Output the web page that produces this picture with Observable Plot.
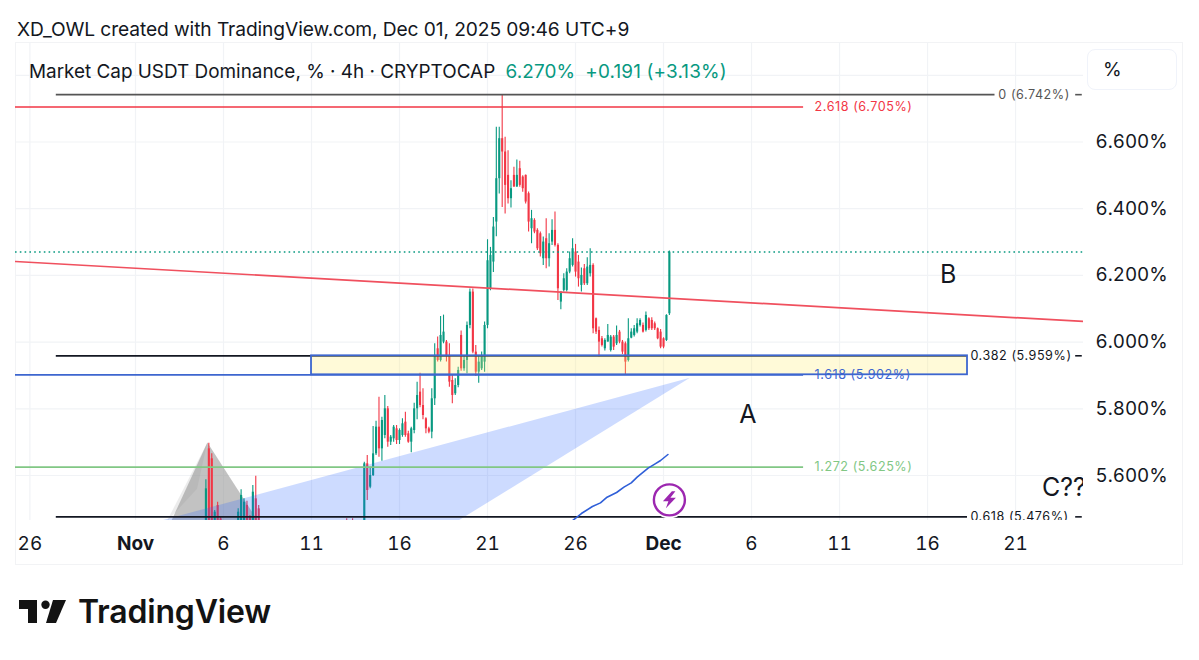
<!DOCTYPE html>
<html>
<head>
<meta charset="utf-8">
<script src="https://cdn.jsdelivr.net/npm/d3@7"></script>
<script src="https://cdn.jsdelivr.net/npm/@observablehq/plot@0.6"></script>
<style>
html,body{margin:0;padding:0;background:#fff;width:1199px;height:660px;overflow:hidden;font-family:Inter,"Noto Sans",sans-serif;color:#131722}
#top{position:absolute;left:17px;top:17px;font-size:19.2px;line-height:24px;white-space:nowrap;letter-spacing:-.005em}
#wrap{position:absolute;left:0;top:42px;width:1199px;height:523px}
#frame{position:absolute;left:15px;top:42px;width:1168px;height:523px;border:1px solid #f2f3f5;box-sizing:border-box}
#legend{position:absolute;left:29px;top:60px;font-size:18.9px;line-height:23px;white-space:nowrap}
#legend .g{color:#089981;margin-left:5px;letter-spacing:.15px}
#legend .g + .g{margin-left:10px}
#unit{position:absolute;left:1087px;top:49px;width:90px;height:41px;border:1px solid #f0f3fa;border-radius:8px;box-sizing:border-box;font-size:19px;line-height:40px;padding-left:15px}
#foot{position:absolute;left:78px;top:592px;font-size:32px;line-height:40px;font-weight:600;letter-spacing:-.2px;color:#131313}
#logo{position:absolute;left:19px;top:599px}
</style>
</head>
<body>
<div id="top">XD_OWL created with TradingView.com, Dec 01, 2025 09:46 UTC+9</div>
<div id="frame"></div>
<div id="wrap"></div>
<div id="legend">Market Cap USDT Dominance, % · 4h · CRYPTOCAP <span class="g">6.270%</span><span class="g">+0.191 (+3.13%)</span></div>
<div id="unit">%</div>
<svg id="logo" width="50" height="26" viewBox="0 0 50 26"><path fill="#131313" d="M0 1h18v23h-9V10H0z"/><circle cx="26.500" cy="5.800" r="4.200" fill="#131313"/><path fill="#131313" d="M34 1h13l-10 23H27z"/></svg>
<div id="foot">TradingView</div>
<script>
// 4h candles, starting at barStart; null = not visible in the pane
const barStart = "2025-11-05T00:00:00Z";
const gap = n => Array(n).fill(null);
const opens = [
  5.42,5.68,5.65,5.44,5.51,5.47,...gap(5),5.44,5.46,5.44,5.51,5.475,5.45,5.53,5.50,...gap(29),
  5.45,null,5.45,...gap(3),5.42,5.635,5.565,5.60,5.665,5.745,
  5.68,5.72,5.80,5.70,5.71,5.74,5.705,5.72,5.76,5.725,
  5.70,5.735,5.80,5.85,5.81,5.77,5.74,5.73,5.83,5.98,
  5.945,6.00,6.00,5.96,5.885,5.845,5.87,6.02,5.92,5.945,
  6.05,6.15,5.97,5.91,5.92,5.94,6.05,6.16,6.24,6.36,
  6.49,6.61,6.57,6.50,6.43,6.50,6.465,6.52,6.495,6.50,
  6.445,6.34,6.365,6.335,6.325,6.25,6.31,6.25,6.30,6.335,
  6.29,6.12,6.155,6.155,6.21,6.23,6.27,6.24,6.17,6.22,
  6.175,6.205,6.23,6.07,6.035,6.01,5.98,6.0,5.975,6.015,
  5.995,6.03,6.0,5.995,5.945,6.012,6.02,6.03,6.05,6.05,
  6.035,6.07,6.065,6.055,6.04,6.03,6.01,6.005,6.085
];
const highs = [
  5.587,5.697,5.665,5.495,5.52,5.475,...gap(5),5.50,5.557,5.53,5.523,5.48,5.57,5.598,5.51,...gap(29),
  5.47,null,5.47,...gap(3),5.64,5.66,5.625,5.747,5.763,5.835,
  5.775,5.84,5.807,5.72,5.75,5.75,5.74,5.77,5.79,5.733,
  5.745,5.817,5.88,5.907,5.86,5.773,5.745,5.86,5.995,6.015,
  6.077,6.081,6.005,5.995,5.90,5.89,5.925,6.033,5.96,6.06,
  6.159,6.159,5.99,5.96,5.97,6.06,6.307,6.284,6.374,6.644,
  6.644,6.742,6.614,6.574,6.484,6.524,6.546,6.542,6.499,6.501,
  6.45,6.395,6.37,6.34,6.33,6.315,6.37,6.325,6.367,6.39,
  6.295,6.15,6.205,6.22,6.27,6.31,6.293,6.26,6.222,6.233,
  6.253,6.28,6.235,6.072,6.045,6.017,6.01,6.053,6.02,6.02,
  6.048,6.035,6.005,6.0,6.07,6.04,6.05,6.07,6.07,6.057,
  6.09,6.073,6.073,6.06,6.042,6.038,6.013,6.082,6.273
];
const lows = [
  5.40,5.40,5.42,5.42,5.43,5.42,...gap(5),5.42,5.43,5.42,5.43,5.42,5.43,5.44,5.43,...gap(29),
  5.43,null,5.43,...gap(3),5.40,5.525,5.56,5.597,5.66,5.655,
  5.643,5.71,5.685,5.69,5.70,5.693,5.693,5.715,5.715,5.697,
  5.668,5.725,5.767,5.803,5.767,5.725,5.725,5.71,5.81,5.94,
  5.94,5.995,5.94,5.865,5.815,5.84,5.863,5.913,5.913,5.905,
  6.04,5.965,5.897,5.877,5.915,5.91,6.04,6.154,6.209,6.316,
  6.444,6.404,6.384,6.414,6.402,6.464,6.464,6.464,6.449,6.414,
  6.33,6.295,6.325,6.275,6.255,6.23,6.22,6.225,6.29,6.285,
  6.125,6.097,6.15,6.15,6.205,6.225,6.195,6.165,6.15,6.17,
  6.17,6.195,6.025,6.023,5.955,5.985,5.973,6.0,5.97,5.975,
  5.99,5.995,5.963,5.903,5.94,6.01,6.015,6.025,6.045,6.027,
  6.03,6.035,6.035,6.035,6.007,5.98,5.98,6.002,6.08
];
const closes = [
  5.56,5.45,5.45,5.49,5.45,5.44,...gap(5),5.49,5.54,5.52,5.45,5.44,5.55,5.46,5.45,...gap(29),
  5.44,null,5.44,...gap(3),5.635,5.555,5.60,5.665,5.745,5.68,
  5.765,5.80,5.70,5.715,5.745,5.705,5.735,5.755,5.72,5.70,
  5.74,5.80,5.84,5.81,5.78,5.74,5.73,5.83,5.96,5.945,
  6.02,6.03,5.96,5.88,5.84,5.87,5.915,5.92,5.945,6.05,
  6.15,5.97,5.91,5.94,5.96,6.05,6.244,6.26,6.345,6.49,
  6.61,6.57,6.47,6.43,6.46,6.465,6.50,6.47,6.46,6.42,
  6.36,6.37,6.33,6.28,6.265,6.30,6.25,6.295,6.335,6.29,
  6.16,6.15,6.19,6.21,6.25,6.28,6.21,6.19,6.20,6.175,
  6.225,6.23,6.04,6.03,6.00,5.99,6.005,6.02,6.015,5.985,
  6.02,6.0,5.97,5.94,6.01,6.03,6.04,6.055,6.065,6.03,
  6.08,6.04,6.04,6.04,6.01,5.985,5.985,6.08,6.27
];

// axes
const priceTicks = [5.6,5.8,6.0,6.2,6.4,6.6];
const priceGrid = [5.6,5.8,6.0,6.2,6.4,6.6,6.8];
const dayTicks = ["2025-10-26","2025-11-06","2025-11-11","2025-11-16","2025-11-21","2025-11-26","2025-12-06","2025-12-11","2025-12-16","2025-12-21"];
const monthTicks = ["2025-11-01","2025-12-01"];
const xDomain = ["2025-10-25T04:22:00Z","2025-12-24T20:40:00Z"];
const yDomain = [5.4651,6.8984];

// Fibonacci levels and their labels
const levelValues = [6.742,6.705,5.959,5.902,5.625,5.476];
const levelNames  = ["0 (6.742%)","2.618 (6.705%)","0.382 (5.959%)","1.618 (5.902%)","1.272 (5.625%)","0.618 (5.476%)"];
const levelColors = ["#555555","#f23645","#131722","#3d66cf","#81c784","#131722"];
const levelStart  = ["2025-10-27T12:00Z","2025-10-25T04:22Z","2025-10-27T12:00Z","2025-10-25T04:22Z","2025-10-25T04:22Z","2025-10-27T12:00Z"];
const levelEnd    = ["2025-12-19T20:00Z","2025-12-08T23:00Z","2025-12-18T06:30Z","2025-12-08T23:00Z","2025-12-08T23:00Z","2025-12-18T06:30Z"];
const labelStart  = ["2025-12-20T00:30Z","2025-12-09T14:00Z","2025-12-18T10:30Z","2025-12-09T14:00Z","2025-12-09T14:00Z","2025-12-18T10:30Z"];
const dashValues  = [6.742,5.959,5.476];
const dashColors  = ["#555555","#131722","#131722"];
const dashStart = "2025-12-24T10:00Z", dashEnd = "2025-12-24T19:00Z";

// drawings
const boxStart = "2025-11-11T00:00Z", boxEnd = "2025-12-18T06:30Z", boxTop = 5.959, boxBottom = 5.902;
const lastPrice = 6.27;
const trendDates = ["2025-10-25T04:22Z","2025-12-24T20:40Z"];
const trendValues = [6.2417,6.0618];
const wedgeDates = ["2025-11-02T06:00Z","2025-12-02T12:00Z","2025-11-19T06:00Z","2025-11-02T06:00Z"];
const wedgeValues = [5.4620,5.893,5.4620,5.4620];
const triDates = ["2025-11-03T00:00Z","2025-11-05T02:00Z","2025-11-08T00:00Z"];
const triValues = [5.460,5.699,5.460];
const haloDates = ["2025-11-02T18:00Z","2025-11-05T02:00Z","2025-11-04T12:00Z"];
const haloValues = [5.460,5.699,5.560];
const curveDates = ["2025-11-25T20:00Z","2025-11-26T08:00Z","2025-11-26T23:00Z","2025-11-27T10:00Z","2025-11-27T19:00Z","2025-11-28T08:00Z","2025-11-28T18:00Z","2025-11-29T04:00Z","2025-11-29T12:00Z","2025-11-30T03:00Z","2025-11-30T12:00Z","2025-11-30T20:00Z","2025-12-01T06:00Z"];
const curveValues = [5.465,5.486,5.507,5.518,5.535,5.549,5.565,5.578,5.595,5.622,5.634,5.645,5.663];
const noteText = ["A","B","C??"];
const noteDates = ["2025-12-05T19:00Z","2025-12-17T04:00Z","2025-12-23T18:00Z"];
const noteValues = [5.782,6.2,5.564];
const noteAnchor = ["middle","middle","start"];
const boltDate = "2025-12-01T08:00Z", boltValue = 5.527;

const D = s => new Date(s);
const H4 = 4*3600e3, t0 = +D(barStart);
const candles = highs.map((h,i)=>({t:new Date(t0+i*H4),o:opens[i],h,l:lows[i],c:closes[i]})).filter(d=>d.h!=null);
const levels = levelValues.map((v,i)=>({v,name:levelNames[i],color:levelColors[i],a:D(levelStart[i]),b:D(levelEnd[i]),lab:D(labelStart[i])}));
const pts = (xs,ys) => xs.map((x,i)=>({x:D(x),y:ys[i]}));
const UP="#089981", DOWN="#f23645", GRID="#f1f3f6", FONT="Inter, 'Noto Sans', sans-serif";
// the lightning icon of the purple badge, as a custom dot symbol
const boltSymbol = {draw(c){c.moveTo(2.5,-8.5);c.lineTo(-6.5,1.5);c.lineTo(-1,1.5);c.lineTo(-3.5,8.5);c.lineTo(6.5,-2);c.lineTo(1,-2);c.lineTo(6,-8.5);c.closePath();}};

const chart = Plot.plot({
  width:1199, height:523,
  marginLeft:15, marginRight:116, marginTop:0, marginBottom:45,
  style:{background:"transparent",fontFamily:FONT,overflow:"hidden"},
  x:{type:"utc",domain:xDomain.map(D)},
  y:{domain:yDomain},
  marks:[
    Plot.gridX(dayTicks.concat(monthTicks).map(D),{stroke:GRID,strokeOpacity:1,strokeWidth:1.2}),
    Plot.gridY(priceGrid,{stroke:GRID,strokeOpacity:1,strokeWidth:1.2}),
    Plot.line(pts(haloDates,haloValues),{x:"x",y:"y",fill:"#9e9e9e",fillOpacity:0.2,stroke:"none",clip:true}),
    Plot.line(pts(triDates,triValues),{x:"x",y:"y",fill:"#8f8f8f",fillOpacity:0.55,stroke:"none",clip:true}),
    Plot.ruleX(candles,{x:"t",y1:"l",y2:"h",stroke:d=>d.c>=d.o?UP:DOWN,strokeWidth:1.1,clip:true}),
    Plot.ruleX(candles,{x:"t",y1:"o",y2:"c",stroke:d=>d.c>=d.o?UP:DOWN,strokeWidth:2.1,clip:true}),
    Plot.line(pts(wedgeDates,wedgeValues),{x:"x",y:"y",fill:"#2962ff",fillOpacity:0.23,stroke:"none",clip:true}),
    Plot.ruleY([lastPrice],{stroke:UP,strokeWidth:1.6,strokeDasharray:"1.6 3.2"}),
    Plot.line(pts(trendDates,trendValues),{x:"x",y:"y",stroke:"#f0505e",strokeWidth:1.7,clip:true}),
    Plot.ruleY(levels,{y:"v",x1:"a",x2:"b",stroke:"color",strokeWidth:1.7,clip:true}),
    Plot.rect([{}],{x1:D(boxStart),x2:D(boxEnd),y1:boxBottom,y2:boxTop,fill:"#ffee70",fillOpacity:0.27,stroke:"#3d66cf",strokeWidth:1.8,inset:0}),
    Plot.ruleY(dashValues.map((v,i)=>({v,c:dashColors[i]})),{y:"v",x1:D(dashStart),x2:D(dashEnd),stroke:"c",strokeWidth:1.6}),
    Plot.text(levels,{x:"lab",y:"v",text:"name",fill:"color",textAnchor:"start",fontSize:12.6,clip:true}),
    Plot.line(pts(curveDates,curveValues),{x:"x",y:"y",stroke:"#2f5fd8",strokeWidth:1.6,clip:true}),
    Plot.dot([{}],{x:D(boltDate),y:boltValue,r:18.5,fill:"#fff",stroke:"none"}),
    Plot.dot([{}],{x:D(boltDate),y:boltValue,r:15.5,fill:"#fff",stroke:"#9c27b0",strokeWidth:2.4}),
    Plot.dot([{}],{x:D(boltDate),y:boltValue,symbol:boltSymbol,fill:"#9c27b0",stroke:"none"}),
    Plot.text(noteText,{x:(d,i)=>D(noteDates[i]),y:(d,i)=>noteValues[i],text:d=>d,textAnchor:(d,i)=>noteAnchor[i],fontSize:25,fill:"#131722",clip:true}),
    Plot.axisY(priceTicks,{anchor:"right",tickSize:0,tickPadding:12,fontSize:18.8,label:null,tickFormat:d=>d.toFixed(3)+"%",color:"#131722"}),
    Plot.axisX(dayTicks.map(D),{anchor:"bottom",tickSize:0,tickPadding:16,fontSize:19,label:null,tickFormat:d=>String(d.getUTCDate()),color:"#131722"}),
    Plot.axisX(monthTicks.map(D),{anchor:"bottom",tickSize:0,tickPadding:16,fontSize:19,fontWeight:"bold",label:null,tickFormat:d=>d.getUTCMonth()===10?"Nov":"Dec",color:"#131722"})
  ]
});
// Fibonacci labels are letter-spaced in the reference
d3.select(chart).selectAll("text").filter(function(){return levelNames.includes(this.textContent);}).style("letter-spacing",".55px");
document.getElementById("wrap").appendChild(chart);
</script>
</body>
</html>
